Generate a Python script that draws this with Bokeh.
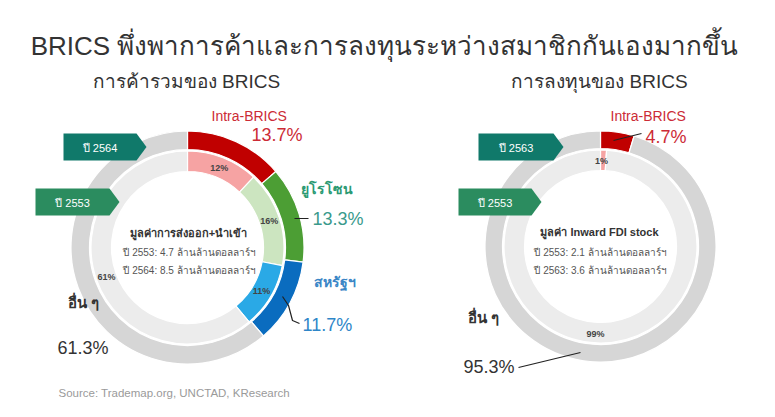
import numpy as np
from bokeh.plotting import figure
from bokeh.models import Range1d
from bokeh.core.properties import value
from bokeh.embed import file_html
from bokeh.resources import INLINE

# ---------------- data ----------------
segments = ["Intra-BRICS", "ยูโรโซน", "สหรัฐฯ", "อื่นๆ"]
trade_2553 = [12, 16, 11, 61]
trade_2564 = [13.7, 13.3, 11.7, 61.3]
inv_segments = ["Intra-BRICS", "อื่นๆ"]
fdi_2553 = [1, 99]
fdi_2563 = [4.7, 95.3]
trade_value = {"2553": 4.7, "2564": 8.5}
fdi_value = {"2553": 2.1, "2563": 3.6}

title = "BRICS พึ่งพาการค้าและการลงทุนระหว่างสมาชิกกันเองมากขึ้น"
sub_left = "การค้ารวมของ BRICS"
sub_right = "การลงทุนของ BRICS"
source = "Source: Trademap.org, UNCTAD, KResearch"

outer_cols = ["#c00000", "#4c9e34", "#0a6cbf", "#d6d6d6"]
inner_cols = ["#f6a3a3", "#cce5c0", "#2aa9e6", "#ececec"]
fdi_outer_cols = ["#c00000", "#d6d6d6"]
fdi_inner_cols = ["#f6a3a3", "#ececec"]

FONT = "Liberation Sans"
W, H = 759, 401

p = figure(width=W, height=H, output_backend="svg", toolbar_location=None,
           x_range=Range1d(0, W), y_range=Range1d(417 - H, 417),
           min_border=0)
p.axis.visible = False
p.grid.visible = False
p.outline_line_color = None
p.background_fill_color = "white"


def Y(y):
    return 417 - y


def ring(cx, cy, r_in, r_out, vals, cols):
    vals = np.asarray(vals, dtype=float)
    frac = vals / vals.sum()
    cum = np.concatenate([[0], np.cumsum(frac)])
    start = np.pi / 2 - 2 * np.pi * cum[:-1]
    end = np.pi / 2 - 2 * np.pi * cum[1:]
    p.annular_wedge(x=cx, y=Y(cy), inner_radius=r_in, outer_radius=r_out,
                    start_angle=start, end_angle=end, direction="clock",
                    fill_color=cols, line_color="white", line_width=1.2)
    mid = np.pi / 2 - 2 * np.pi * (cum[:-1] + cum[1:]) / 2
    return mid


def txt(x, y, s, size, color="#333333", align="center", bold=False, base="middle"):
    p.text(x=[x], y=[Y(y)], text=[s], text_font=value(FONT),
           text_font_size=f"{size}px", text_color=color, text_align=align,
           text_baseline=base, text_font_style="bold" if bold else "normal")


def tag(x0, x1, y0, y1, label, color):
    tip = 10
    xs = [x0, x1 - tip, x1, x1 - tip, x0]
    ys = [Y(y0), Y(y0), Y((y0 + y1) / 2), Y(y1), Y(y1)]
    p.patch(xs, ys, fill_color=color, line_color=None)
    txt((x0 + x1 - tip) / 2, (y0 + y1) / 2 + 1, label, 11, color="white")


R_OUT, R_MID, R_IN = 116.5, 98, 76

# ---------- left donut ----------
cxL, cyL = 187, 247
ring(cxL, cyL, R_MID, R_OUT, trade_2564, outer_cols)
mids = ring(cxL, cyL, R_IN, R_MID - 1.5, trade_2553, inner_cols)
rl = 86
for m, v in zip(mids, trade_2553):
    txt(cxL + rl * np.cos(m), cyL - rl * np.sin(m), f"{v}%", 9, color="#444444", bold=True)

# ---------- right donut ----------
cxR, cyR = 600, 246
ring(cxR, cyR, R_MID, R_OUT - 1, fdi_2563, fdi_outer_cols)
midsR = ring(cxR, cyR, R_IN, R_MID - 1.5, fdi_2553, fdi_inner_cols)
txt(cxR + 1, 160, f"{fdi_2553[0]}%", 9, color="#444444", bold=True)
txt(cxR - 5, 333, f"{fdi_2553[1]}%", 9, color="#444444", bold=True)

# ---------- titles ----------
txt(384, 45, title, 26, color="#333333")
txt(186, 81, sub_left, 19, color="#333333")
txt(599, 81, sub_right, 19, color="#333333")
txt(58, 392, source, 11.5, color="#9a9a9a", align="left")

# ---------- tags ----------
tag(63, 146, 133, 160, "ปี 2564", "#10796a")
tag(35, 119, 188, 215, "ปี 2553", "#2b8c5f")
tag(478, 563, 133, 160, "ปี 2563", "#10796a")
tag(458, 541, 188, 215, "ปี 2553", "#2b8c5f")

# ---------- left labels ----------
txt(211, 115, segments[0], 14, color="#cc2b36", align="left")
txt(302, 134, f"{trade_2564[0]}%", 18, color="#cc2b36", align="right")
txt(300, 188, segments[1], 14, color="#2b9a73", align="left", bold=True)
txt(312, 218, f"{trade_2564[1]}%", 18, color="#3a9a8c", align="left")
p.line([294, 308], [Y(218), Y(218)], line_color="#222222", line_width=1.2)
txt(313, 281, segments[2], 14, color="#3a86c6", align="left", bold=True)
txt(302, 324, f"{trade_2564[2]}%", 18, color="#2e86c8", align="left")
p.line([282, 288, 292, 299], [Y(296), Y(305), Y(320), Y(323)], line_color="#222222", line_width=1.2)
txt(67, 302, "อื่น ๆ", 15, color="#333333", align="left", bold=True)
txt(57, 347, f"{trade_2564[3]}%", 18, color="#333333", align="left")

txt(188, 232, "มูลค่าการส่งออก+นำเข้า", 11, color="#333333", bold=True)
txt(189, 252, f"ปี 2553: {trade_value['2553']} ล้านล้านดอลลาร์ฯ", 10, color="#555555")
txt(189, 270, f"ปี 2564: {trade_value['2564']} ล้านล้านดอลลาร์ฯ", 10, color="#555555")

# ---------- right labels ----------
txt(610, 115, inv_segments[0], 14, color="#cc2b36", align="left")
txt(645, 136, f"{fdi_2563[0]}%", 18, color="#cc2b36", align="left")
p.line([613, 641], [Y(140), Y(133)], line_color="#222222", line_width=1.2)
txt(467, 317, "อื่น ๆ", 15, color="#333333", align="left", bold=True)
txt(463, 366, f"{fdi_2563[1]}%", 18, color="#333333", align="left")
p.line([518, 580], [Y(367), Y(352)], line_color="#222222", line_width=1.2)

txt(599, 231, "มูลค่า Inward FDI stock", 11, color="#333333", bold=True)
txt(600, 252, f"ปี 2553: {fdi_value['2553']} ล้านล้านดอลลาร์ฯ", 10, color="#555555")
txt(600, 270, f"ปี 2563: {fdi_value['2563']} ล้านล้านดอลลาร์ฯ", 10, color="#555555")

open("out.html", "w").write(file_html(p, INLINE))
